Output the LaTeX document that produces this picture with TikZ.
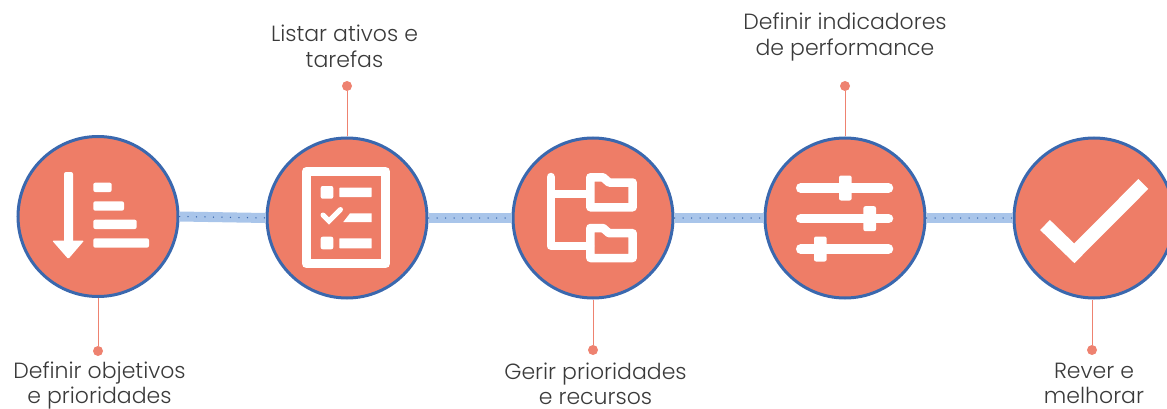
\documentclass[tikz,border=0pt]{standalone}
\usepackage{fontspec}
\setmainfont{Poppins}[UprightFont=* Light]
\definecolor{coral}{HTML}{EE7D67}
\definecolor{ringblue}{HTML}{3A68AE}
\definecolor{bandblue}{HTML}{A9C5EA}
\definecolor{pinred}{HTML}{EE8270}
\definecolor{ink}{HTML}{3A3A3A}
\tikzset{
  stepdisc/.style={circle,draw=ringblue,line width=3pt,fill=coral,minimum size=160pt,inner sep=0pt},
  pindot/.style={circle,fill=pinred,minimum size=10pt,inner sep=0pt},
  pinline/.style={draw=pinred,line width=1pt},
  caption/.style={align=center,text=ink,font=\fontsize{22}{26}\selectfont,inner sep=0pt},
  captionlow/.style={align=center,text=ink,font=\fontsize{22}{25}\selectfont,inner sep=0pt},
  band/.style={draw=bandblue,line width=10pt},
  banddots/.style={draw=ringblue,line width=1.5pt,line cap=round,dash pattern=on 0pt off 8.5pt},
  glyph/.style={draw=white,line width=9.3pt,line cap=round,line join=round},
  glyphfill/.style={fill=white,rounded corners=2pt}
}
\begin{document}
\begin{tikzpicture}[x=1pt,y=-1pt]
\useasboundingbox (0,0) rectangle (1167,409);
\clip (0,0) rectangle (1167,409);
% discs
\node[stepdisc] (c1) at (98,216.5) {};
\node[stepdisc] (c2) at (347,218) {};
\node[stepdisc] (c3) at (593,218) {};
\node[stepdisc] (c4) at (845,218) {};
\node[stepdisc] (c5) at (1094,218) {};
% connectors
\foreach \a/\b in {c1/c2,c2/c3,c3/c4,c4/c5}{
  \draw[band] (\a.east) -- (\b.west);
  \draw[banddots] (\a.east) -- (\b.west);
}
% pins
\node[pindot] (p1) at (98,351) {};
\node[pindot] (p2) at (347,86) {};
\node[pindot] (p3) at (593,350) {};
\node[pindot] (p4) at (845,86) {};
\node[pindot] (p5) at (1092,350) {};
\draw[pinline] (c1.south) -- (p1);
\draw[pinline] (c2.north) -- (p2);
\draw[pinline] (c3.south) -- (p3);
\draw[pinline] (c4.north) -- (p4);
\draw[pinline] (c5.south -| p5) -- (p5);
% captions
\node[captionlow] (t1) at (99.5,385.5) {Definir objetivos\\e prioridades};
\node[caption] (t2) at (344.5,46.5) {Listar ativos e\\tarefas};
\node[captionlow] (t3) at (595.5,383.5) {Gerir prioridades\\e recursos};
\node[caption] (t4) at (845,37.5) {Definir indicadores\\de performance};
\node[captionlow] (t5) at (1094,383.5) {Rever e\\melhorar};
% icon 1
\fill[white,rounded corners=2pt] (64,172) rectangle (73,245);
\fill[white,rounded corners=1pt] (52.3,240.7) -- (84,240.7) -- (68.3,259) -- cycle;
\fill[glyphfill] (93.3,182.7) rectangle (111.7,192);
\fill[glyphfill] (93.3,201.3) rectangle (124,210.7);
\fill[glyphfill] (93.3,219.7) rectangle (136.7,229);
\fill[glyphfill] (93.3,238.3) rectangle (149,247.7);
% icon 2
\draw[white,line width=9.5pt,line join=round] (306.4,171.6) rectangle (385.5,263.7);
\fill[glyphfill] (320.7,186) rectangle (333.3,198.7);
\fill[white,rounded corners=.5pt] (339.3,187.7) rectangle (371.7,197);
\draw[white,line width=5pt,line cap=round,line join=miter] (323,215) -- (329,221) -- (340.5,209.5);
\fill[white] (343.3,222) -- (350,213.3) -- (371.7,213.3) -- (371.7,222) -- cycle;
\fill[glyphfill] (320.7,236.7) rectangle (333.3,249.3);
\fill[white,rounded corners=.5pt] (339.3,238.3) rectangle (371.7,248.3);
% icon 3
\draw[white,line width=8.5pt,line join=round,line cap=round] (550.8,177) -- (550.8,245.8) -- (590,245.8);
\draw[white,line width=8.5pt] (550.8,194.2) -- (590,194.2);
\foreach \dy in {0,50.7}{
  \draw[white,line width=8.5pt,line join=round,yshift=-\dy pt]
    (590.3,177.3) -- (603,177.3) -- (609,182.5) -- (632.7,182.5) -- (632.7,207.3) -- (590.3,207.3) -- cycle;
}
% icon 4
\foreach \y/\x in {188/845.3,218.7/869.7,249/820.3}{
  \draw[glyph] (800.6,\y) -- (888.6,\y);
  \fill[glyphfill] (\x-6.3,\y-12.5) rectangle (\x+6.3,\y+12.5);
}
% icon 5
\draw[white,line width=14pt,line join=miter,line cap=butt] (1045,225) -- (1074.3,253.3) -- (1143.3,184);
\end{tikzpicture}
\end{document}
